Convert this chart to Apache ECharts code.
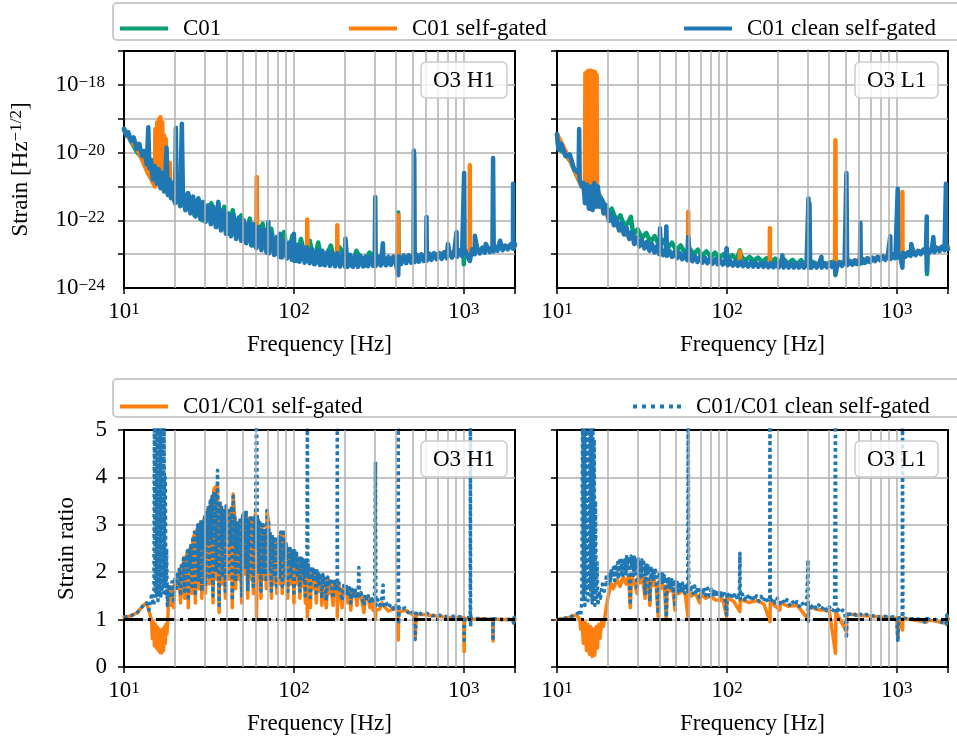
<!DOCTYPE html>
<html><head><meta charset="utf-8">
<script src="https://cdn.jsdelivr.net/npm/echarts@6/dist/echarts.min.js"></script>
<style>html,body{margin:0;padding:0;background:#fff}#c{width:957px;height:742px}</style>
</head><body><div id="c"></div>
<script>
const FONT = 'Liberation Serif';
const FS = 23;

// ---------- DATA ----------
// Top row: amplitude spectral density [Hz^-1/2] vs frequency [Hz]
const h1C01 = [[10,5.0e-20],[12,1.0e-20],[14,4.0e-21],[16,1.26e-21],[18,1.0e-21],[20,4.0e-22],[21.5,8.9e-22],[23,2.0e-22],[23.8,6.3e-22],[26,1.4e-22],[27.4,4.5e-22],[29,1.0e-22],[32.7,3.2e-22],[35,6.3e-23],[38.9,2.5e-22],[41,4.0e-23],[43.7,2.0e-22],[46,3.2e-23],[49,1.4e-22],[52,2.5e-23],[55,1.12e-22],[58,1.8e-23],[65.5,7.9e-23],[69,1.26e-23],[73.5,5.6e-23],[78,1.0e-23],[87.5,4.5e-23],[92,7.9e-24],[98,3.5e-23],[104,6.3e-24],[110,2.8e-23],[118,6.3e-24],[124,2.5e-23],[131,5.2e-24],[139,2.2e-23],[147,5.0e-24],[165,1.8e-23],[175,4.5e-24],[185,1.6e-23],[220,4.5e-24],[233,1.26e-23],[262,4.5e-24],[278,1.12e-23],[350,5.0e-24],[408,7.9e-24],[411,1.7e-22],[414,6.3e-24],[600,7.9e-24],[995,1.12e-23],[1000,5.0e-24],[1006,1.12e-23],[2000,1.8e-23]];
const h1Gated = [[10,4.5e-20],[12,1.26e-20],[13.8,2.5e-21],[14.5,1.6e-21],[15.2,1.0e-21],[15.3,5.0e-20],[15.5,1.6e-21],[15.7,7.9e-20],[15.9,1.6e-21],[16.1,1.0e-19],[16.3,1.26e-21],[16.4,1.1e-19],[16.6,1.26e-21],[16.8,7.9e-20],[17.0,1.0e-21],[17.2,3.2e-20],[17.4,1.0e-21],[17.6,2.5e-20],[17.8,7.9e-22],[18.4,6.3e-22],[18.6,5.0e-21],[18.8,6.3e-22],[22,3.2e-22],[30,1.26e-22],[45,5.0e-23],[60.0,2.5e-23],[60.4,1.9e-21],[60.8,2.5e-23],[100,1.26e-23],[119.5,1.0e-23],[119.8,1.05e-22],[120.2,1.0e-23],[179.6,7.9e-24],[180,7.1e-23],[180.4,7.9e-24],[300,7.1e-24],[410,7.9e-24],[411,1.4e-22],[412,7.9e-24],[700,1.0e-23],[1082,1.26e-23],[1084,4.2e-21],[1086,1.26e-23],[2000,1.8e-23]];
const h1Clean = [[10,5.0e-20],[10.3,3.2e-20],[10.6,4.0e-20],[11.0,2.2e-20],[11.4,2.8e-20],[11.9,1.3e-20],[12.3,1.8e-20],[12.8,7.9e-21],[13.2,1.1e-20],[13.6,4.5e-21],[13.9,5.6e-20],[14.1,3.5e-21],[14.4,6.3e-21],[14.8,1.6e-21],[15.2,4.0e-21],[15.6,1.2e-21],[16.0,3.2e-21],[16.4,8.9e-22],[16.8,2.5e-21],[17.2,7.1e-22],[17.5,2.0e-21],[17.8,1.4e-20],[18.1,5.6e-22],[18.5,1.6e-21],[18.9,4.5e-22],[19.3,1.26e-21],[19.7,4.0e-22],[20.0,3.2e-22],[20.2,5.4e-20],[20.4,3.5e-22],[20.7,8.9e-22],[21.4,2.6e-22],[21.9,7.1e-20],[22.2,7.6e-22],[23.0,2.0e-22],[23.8,6.3e-22],[24.6,1.6e-22],[25.5,5.0e-22],[26.4,1.3e-22],[27.3,4.2e-22],[28.2,1.07e-22],[29.2,3.5e-22],[30.2,8.9e-23],[31.3,2.8e-22],[32.4,7.6e-23],[33.5,2.5e-22],[34.7,6.3e-23],[35.9,3.5e-22],[37.2,5.0e-23],[38.5,1.9e-22],[39.8,4.0e-23],[41.2,1.6e-22],[42.6,3.4e-23],[44.1,1.4e-22],[45.7,2.8e-23],[47.3,1.2e-22],[48.9,2.5e-23],[50.6,1.0e-22],[52.4,2.1e-23],[54.2,8.9e-23],[56.1,1.8e-23],[58.1,7.6e-23],[60.1,1.5e-23],[62.2,6.3e-23],[64.4,1.3e-23],[66.7,5.2e-23],[69.0,1.12e-23],[70.7,8.9e-23],[71.4,1.07e-23],[73.9,4.0e-23],[76.5,9.5e-24],[79.2,3.2e-23],[82.0,8.3e-24],[82.7,4.0e-23],[84.8,7.9e-24],[87.8,2.5e-23],[90.9,7.4e-24],[94.0,2.2e-23],[97.3,6.8e-24],[100,4.0e-23],[100.7,6.3e-24],[104.3,1.9e-23],[107.9,6.0e-24],[111.7,1.8e-23],[115.6,5.6e-24],[119.6,1.6e-23],[123.8,5.4e-24],[128.1,1.4e-23],[132.6,5.0e-24],[137.3,1.3e-23],[142.1,4.8e-24],[147,1.26e-23],[152.2,4.7e-24],[157.5,1.17e-23],[163,4.5e-24],[168.7,1.12e-23],[174.6,4.4e-24],[180.7,1.07e-23],[187.1,4.3e-24],[193.6,1.0e-23],[200.4,4.2e-24],[201,2.9e-23],[207.4,4.2e-24],[214.7,9.5e-24],[222.2,4.2e-24],[230,9.1e-24],[238,4.2e-24],[246.4,8.9e-24],[255,4.3e-24],[263.9,8.5e-24],[273.2,4.4e-24],[282.7,8.3e-24],[292.6,4.5e-24],[299,8.3e-24],[301,4.9e-22],[303,4.5e-24],[313.5,8.3e-24],[324.4,4.6e-24],[334,2.1e-23],[335.8,8.3e-24],[347.5,4.7e-24],[359.7,8.3e-24],[372.3,4.8e-24],[385.3,8.5e-24],[398.8,5.0e-24],[411,2.4e-24],[412.8,8.7e-24],[427.2,5.1e-24],[442.2,9.1e-24],[457.6,5.4e-24],[473.7,9.3e-24],[490.2,5.6e-24],[506,9.5e-24],[508,1.15e-20],[511,6.3e-21],[514,5.8e-24],[525.2,9.8e-24],[543.5,6.0e-24],[562.6,1.0e-23],[582.2,6.3e-24],[600,1.0e-23],[603,1.26e-22],[606,6.5e-24],[623.7,1.05e-23],[645.5,6.8e-24],[668.1,1.07e-23],[691.5,7.1e-24],[715.7,1.1e-23],[740.7,7.2e-24],[766.7,1.15e-23],[793.5,7.6e-24],[806,2.0e-23],[821.3,1.17e-23],[850,7.9e-24],[879.8,1.23e-23],[906,4.5e-23],[910.6,8.3e-24],[942.5,1.29e-23],[975.4,8.7e-24],[1004,2.5e-21],[1009.6,1.35e-23],[1044.9,9.3e-24],[1084,6.3e-24],[1119.3,1.4e-23],[1158.5,1.0e-23],[1161,3.5e-23],[1199.1,1.48e-23],[1241,1.05e-23],[1284.5,1.55e-23],[1329.4,1.1e-23],[1345,2.0e-23],[1376,1.6e-23],[1424.1,1.15e-23],[1474,1.66e-23],[1486,6.9e-21],[1499,1.2e-23],[1525.6,1.7e-23],[1579,1.26e-23],[1634.2,2.5e-23],[1691.4,1.3e-23],[1750.6,1.8e-23],[1811.9,1.38e-23],[1875.3,1.9e-23],[1945,1.45e-23],[1950,1.2e-21],[1956,1.45e-23],[2000,2.0e-23]];

const l1C01 = [[10,3.5e-20],[10.2,1.26e-20],[11,1.0e-20],[12,5.6e-21],[13,2.2e-21],[14,1.0e-21],[15,1.0e-21],[16,1.35e-21],[16.5,1.0e-21],[17.5,6.3e-22],[18.7,3.5e-22],[19.8,1.6e-22],[21.0,2.2e-22],[22.3,1.0e-22],[23.6,1.4e-22],[25.0,6.3e-23],[26.5,9.5e-23],[27.2,1.26e-22],[28.1,3.8e-23],[29.8,5.4e-23],[31.6,3.0e-23],[33.5,4.2e-23],[35.5,2.3e-23],[37.6,3.4e-23],[39.9,1.8e-23],[42.3,2.6e-23],[44.8,1.5e-23],[47.5,2.2e-23],[50.4,1.26e-23],[53.4,1.8e-23],[56.6,1.12e-23],[60.0,1.5e-23],[63.6,1.0e-23],[67.4,1.35e-23],[71.5,9.1e-24],[75.8,1.2e-23],[80.3,8.3e-24],[85.1,1.1e-23],[90.2,7.6e-24],[95.7,1.0e-23],[101.4,7.1e-24],[107.5,9.3e-24],[114,6.8e-24],[119.2,1.3e-23],[120.8,8.9e-24],[128,6.5e-24],[135.7,8.3e-24],[143.9,6.3e-24],[152.5,7.9e-24],[161.7,6.0e-24],[171.4,7.6e-24],[181.7,5.8e-24],[192.6,7.4e-24],[204.1,5.5e-24],[216.4,7.1e-24],[229.4,5.2e-24],[243.1,6.8e-24],[257.7,5.0e-24],[273.2,6.6e-24],[289.6,4.8e-24],[307,6.3e-24],[360,4.6e-24],[420,6.0e-24],[600,5.2e-24],[800,7.9e-24],[1000,7.9e-24],[1495,1.26e-23],[1505,2.6e-24],[1515,1.3e-23],[2000,1.6e-23]];
const l1Gated = [[10,3.5e-20],[12,5.6e-21],[14,1.0e-21],[14.6,1.0e-21],[14.7,2.2e-18],[14.9,1.26e-21],[15.1,2.5e-18],[15.3,1.26e-21],[15.5,2.6e-18],[15.7,1.26e-21],[15.9,2.6e-18],[16.1,1.26e-21],[16.3,2.5e-18],[16.5,1.26e-21],[16.7,2.4e-18],[16.9,1.26e-21],[17.1,2.0e-18],[17.2,1.0e-21],[18,3.5e-22],[19,1.8e-22],[20,1.26e-22],[25,4.0e-23],[40,1.26e-23],[59.0,7.9e-24],[59.2,1.8e-22],[59.4,7.9e-24],[100,5.4e-24],[119.0,5.0e-24],[119.2,1.2e-23],[119.4,5.0e-24],[178.7,4.7e-24],[179,5.8e-23],[179.3,4.7e-24],[433,5.2e-24],[435,2.3e-20],[437,5.2e-24],[1076,1.0e-23],[1078,6.8e-22],[1080,1.0e-23],[2000,1.66e-23]];
const l1Clean = [[10,3.5e-20],[10.2,1.26e-20],[10.6,1.8e-20],[11.2,7.9e-21],[11.9,8.9e-21],[12.6,3.2e-21],[13.4,2.5e-21],[13.5,5.0e-20],[13.6,1.6e-21],[14.0,1.0e-21],[14.3,1.26e-21],[14.6,3.2e-22],[15.0,1.12e-21],[15.4,2.2e-22],[15.8,1.0e-21],[16.2,2.0e-22],[16.6,1.26e-21],[17.0,2.5e-22],[17.4,1.0e-21],[17.8,2.5e-22],[18.2,4.2e-22],[18.8,1.6e-22],[19.5,2.8e-22],[20.2,9.5e-23],[20.9,1.6e-22],[21.6,7.1e-23],[22.4,1.07e-22],[23.2,5.0e-23],[24.0,8.3e-23],[24.8,3.8e-23],[25.7,6.0e-23],[26.6,2.8e-23],[27.5,4.4e-23],[28.5,2.0e-23],[29.5,3.2e-23],[30.5,1.7e-23],[31.6,2.6e-23],[32.7,1.48e-23],[33.8,2.3e-23],[35.0,1.26e-23],[36.2,2.0e-23],[37.5,1.12e-23],[38.8,1.74e-23],[40.0,1.0e-23],[40.4,5.8e-23],[40.8,1.48e-23],[42.2,9.3e-24],[43.7,1.35e-23],[44.0,6.6e-23],[44.4,8.9e-24],[45.9,1.26e-23],[47.5,8.3e-24],[49.2,1.17e-23],[50.9,7.6e-24],[52.7,1.1e-23],[54.5,7.1e-24],[56.4,1.02e-23],[58.4,6.6e-24],[59.2,3.2e-23],[60.4,9.3e-24],[62.5,6.2e-24],[64.7,8.9e-24],[67.0,5.9e-24],[69.3,8.3e-24],[71.7,5.6e-24],[74.2,7.9e-24],[76.8,5.4e-24],[79.5,7.4e-24],[82.3,5.2e-24],[85.2,7.1e-24],[88.2,5.0e-24],[91.3,6.8e-24],[94.5,4.9e-24],[97.8,6.5e-24],[99.6,1.5e-23],[101.2,4.7e-24],[104.7,6.3e-24],[108.4,4.6e-24],[112.2,6.2e-24],[116.1,4.5e-24],[120.2,6.0e-24],[124.4,4.4e-24],[128.8,5.9e-24],[133.3,4.3e-24],[138,5.8e-24],[142.8,4.3e-24],[147.8,5.6e-24],[153,4.2e-24],[158.4,5.6e-24],[163.9,4.2e-24],[169.6,5.5e-24],[175.6,4.1e-24],[181.7,5.5e-24],[188.1,4.1e-24],[194.7,5.4e-24],[201.5,4.0e-24],[208.5,5.4e-24],[212,9.3e-24],[215.8,4.0e-24],[223.4,5.4e-24],[231.2,4.0e-24],[239.3,5.4e-24],[247.7,4.0e-24],[256.3,5.4e-24],[265.3,4.0e-24],[274.6,5.4e-24],[284.2,4.0e-24],[294.2,5.4e-24],[302,4.4e-22],[304,4.0e-24],[306,3.2e-22],[309,5.4e-24],[315.1,4.0e-24],[326.2,5.4e-24],[337.6,4.0e-24],[349.4,5.4e-24],[360,8.3e-24],[361.6,4.0e-24],[374.3,5.4e-24],[387.4,4.1e-24],[401,5.5e-24],[415,4.2e-24],[429.5,5.6e-24],[435,2.4e-24],[444.5,4.3e-24],[460,5.8e-24],[476,4.5e-24],[492.7,6.0e-24],[505,2.5e-21],[510,4.7e-24],[527.8,6.3e-24],[546.3,4.9e-24],[565.4,6.6e-24],[585.2,5.1e-24],[605.7,6.9e-24],[610,8.5e-23],[614,5.4e-24],[626.9,7.2e-24],[648.9,5.5e-24],[671.6,7.6e-24],[695.1,5.8e-24],[719.4,7.9e-24],[744.6,6.2e-24],[770.7,8.3e-24],[797.6,6.5e-24],[825.5,8.7e-24],[854.4,6.8e-24],[884.3,9.1e-24],[915,3.4e-23],[918,7.2e-24],[947.3,1.0e-23],[980.5,7.6e-24],[1012,8.5e-22],[1016,1.05e-23],[1050.3,7.9e-24],[1078,4.0e-24],[1087,1.1e-23],[1125,8.5e-24],[1164.4,1.15e-23],[1205.2,8.9e-24],[1216,2.0e-23],[1247.4,1.2e-23],[1291,9.3e-24],[1336.3,1.26e-23],[1383,1.0e-23],[1431.4,1.35e-23],[1481.5,1.05e-23],[1500,1.3e-22],[1505,3.2e-24],[1515,1.38e-23],[1553,1.1e-23],[1607,1.45e-23],[1640,3.2e-23],[1663,1.15e-23],[1721,1.55e-23],[1781,1.23e-23],[1843,1.66e-23],[1908,1.3e-23],[1945,1.2e-21],[1955,1.74e-23],[2000,1.4e-23]];

// Bottom row: strain ratios
const h1RatioGated = [[10,1.05],[11,1.08],[12,1.15],[13,1.3],[13.6,1.35],[14.0,1.2],[14.5,1.0],[14.7,0.6],[14.9,0.95],[15.1,0.45],[15.3,0.9],[15.5,0.4],[15.7,0.85],[15.9,0.35],[16.1,0.8],[16.3,0.3],[16.5,0.75],[16.7,0.3],[16.9,0.8],[17.1,0.35],[17.3,0.85],[17.5,0.5],[17.7,0.9],[17.9,0.7],[18.1,1.0],[18.4,1.65],[18.8,1.3],[19.2,1.7],[19.6,1.25],[20.0,1.8],[20.9,1.65],[21.2,2.0],[21.5,1.35],[21.8,2.1],[22.4,2.2],[22.7,1.45],[23.0,2.3],[23.6,2.4],[23.9,1.25],[24.2,2.45],[24.8,2.55],[25.1,1.55],[25.4,2.7],[26.0,2.8],[26.3,1.35],[26.6,2.85],[27.2,2.95],[27.5,1.65],[27.8,3.0],[28.4,3.05],[28.7,1.45],[29.0,2.95],[29.8,3.15],[30.2,1.55],[30.6,3.25],[31.4,3.35],[31.8,1.75],[32.2,3.45],[33.0,3.55],[33.4,1.35],[33.8,3.75],[34.6,3.8],[35.0,1.85],[35.5,3.8],[36.3,1.15],[36.7,3.45],[37.5,3.35],[37.9,1.75],[38.3,3.25],[39.1,3.25],[39.5,1.45],[39.9,3.35],[40.9,3.3],[41.4,1.85],[41.9,3.15],[42.9,3.35],[43.4,1.25],[43.9,3.65],[44.9,3.15],[45.4,1.65],[45.9,3.05],[46.9,3.0],[47.5,1.85],[48.1,3.05],[49.3,1.35],[49.9,3.15],[51.1,3.2],[51.7,1.95],[52.3,3.25],[53.5,1.45],[54.1,3.05],[55.3,3.15],[55.9,1.85],[56.5,3.15],[57.7,1.55],[58.3,3.05],[59.5,3.25],[60.2,1.0],[61.0,2.4],[61.6,3.05],[62.2,1.85],[62.8,3.05],[64.0,1.45],[64.6,2.95],[66.0,2.95],[66.7,1.85],[67.4,2.85],[68.8,1.65],[69.5,3.3],[70.9,3.05],[71.6,1.85],[72.3,2.8],[73.7,1.45],[74.4,2.75],[76.0,2.7],[76.8,1.75],[77.6,2.65],[79.2,1.55],[80.0,2.65],[81.8,2.7],[82.7,1.75],[83.6,2.8],[85.4,1.55],[86.3,2.85],[88.1,2.55],[89.0,1.75],[90,2.55],[92,1.45],[93,2.5],[95,2.45],[96,1.75],[97,2.45],[99,2.4],[100,1.35],[101.2,2.4],[103.6,2.35],[104.8,1.75],[106,2.3],[108.4,1.45],[109.6,2.25],[112,2.23],[113.2,1.7],[114.4,2.2],[116.8,1.35],[118,2.15],[120,1.05],[122,2.1],[125,1.25],[126.5,2.07],[129.5,2.05],[131,1.65],[132.5,2.03],[135.5,1.35],[137,1.98],[140,1.95],[142,1.6],[144,1.92],[146,1.3],[148,1.9],[152,1.88],[155,1.25],[158,1.85],[161,1.55],[164,1.82],[170,1.3],[173,1.8],[179.5,1.75],[180,1.05],[180.5,1.55],[184,1.73],[192,1.25],[196,1.67],[204,1.65],[208,1.35],[212,1.62],[216,1.2],[220,1.59],[230,1.57],[235,1.3],[239,1.55],[248,1.52],[258,1.15],[263,1.48],[274,1.45],[280,1.25],[286,1.43],[292,1.2],[298,1.41],[302,1.0],[304,1.2],[320,1.22],[328,1.35],[360,1.18],[398,1.25],[409,1.2],[411,0.57],[413,1.15],[450,1.2],[505,1.1],[517,0.6],[525,1.12],[600,1.1],[700,1.07],[800,1.05],[1000,1.04],[1004,0.32],[1010,1.03],[1093,1.0],[1100,1.03],[1300,1.02],[1480,1.0],[1485,0.55],[1490,1.01],[1700,1.0],[1950,1.0],[1960,0.93],[1980,1.05],[2000,1.0]];
const h1RatioClean = [[10,1.05],[11,1.08],[12,1.15],[13,1.3],[13.6,1.35],[14.0,1.2],[14.5,1.5],[15.0,1.3],[15.1,5.5],[15.25,1.6],[15.4,5.5],[15.55,1.5],[15.7,5.5],[15.85,1.4],[16.0,5.5],[16.15,1.5],[16.3,5.5],[16.45,1.45],[16.6,5.5],[16.75,1.6],[16.9,5.5],[17.05,1.5],[17.2,5.5],[17.35,1.7],[17.5,4.0],[17.65,1.5],[17.8,2.5],[18,1.3],[18.4,1.75],[18.8,1.45],[19.2,1.8],[19.6,1.4],[20.0,1.9],[20.3,1.6],[20.6,2.0],[20.9,1.7],[21.2,2.1],[21.5,1.5],[21.8,2.2],[22.1,1.85],[22.4,2.3],[22.7,1.6],[23.0,2.35],[23.3,2.0],[23.6,2.45],[23.9,1.4],[24.2,2.5],[24.5,2.1],[24.8,2.6],[25.1,1.7],[25.4,2.75],[25.7,2.2],[26.0,2.85],[26.3,1.5],[26.6,2.9],[26.9,2.4],[27.2,3.0],[27.5,1.8],[27.8,3.05],[28.1,2.5],[28.4,3.1],[28.7,1.6],[29.0,3.0],[29.4,2.5],[29.8,3.2],[30.2,1.7],[30.6,3.3],[31.0,2.6],[31.4,3.4],[31.8,1.9],[32.2,3.5],[32.6,2.7],[33.0,3.6],[33.4,1.5],[33.8,3.7],[34.2,2.8],[34.6,3.65],[35.0,2.0],[35.5,4.15],[35.9,2.7],[36.3,1.3],[36.7,3.5],[37.1,2.6],[37.5,3.4],[37.9,1.9],[38.3,3.3],[38.7,2.6],[39.1,3.3],[39.5,1.6],[39.9,3.4],[40.4,2.7],[40.9,3.35],[41.4,2.0],[41.9,3.2],[42.4,2.6],[42.9,3.4],[43.4,1.4],[43.9,3.6],[44.4,2.6],[44.9,3.2],[45.4,1.8],[45.9,3.1],[46.4,2.5],[46.9,3.05],[47.5,2.0],[48.1,3.1],[48.7,2.5],[49.3,1.5],[49.9,3.2],[50.5,2.6],[51.1,3.25],[51.7,2.1],[52.3,3.3],[52.9,2.6],[53.5,1.6],[54.1,3.1],[54.7,2.5],[55.3,3.2],[55.9,2.0],[56.5,3.2],[57.1,2.6],[57.7,1.7],[58.3,3.1],[58.9,2.5],[59.5,3.3],[59.8,4.3],[60.2,5.5],[60.6,4.4],[61.0,2.5],[61.6,3.1],[62.2,2.0],[62.8,3.1],[63.4,2.5],[64.0,1.6],[64.6,3.0],[65.3,2.5],[66.0,3.0],[66.7,2.0],[67.4,2.9],[68.1,2.4],[68.8,1.8],[69.5,3.3],[70.2,2.6],[70.9,3.1],[71.6,2.0],[72.3,2.85],[73.0,2.4],[73.7,1.6],[74.4,2.8],[75.2,2.3],[76.0,2.75],[76.8,1.9],[77.6,2.7],[78.4,2.3],[79.2,1.7],[80.0,2.7],[80.9,2.3],[81.8,2.75],[82.7,1.9],[83.6,2.85],[84.5,2.3],[85.4,1.7],[86.3,2.9],[87.2,2.3],[88.1,2.6],[89.0,1.9],[90,2.6],[91,2.2],[92,1.6],[93,2.55],[94,2.15],[95,2.5],[96,1.9],[97,2.5],[98,2.1],[99,2.45],[100,1.5],[101.2,2.45],[102.4,2.1],[103.6,2.4],[104.8,1.9],[106,2.35],[107.2,2.0],[108.4,1.6],[109.6,2.3],[110.8,2.0],[112,2.28],[113.2,1.85],[114.4,2.25],[115.6,1.95],[116.8,1.5],[118,2.2],[119.2,1.95],[120,5.5],[120.8,1.9],[122,2.15],[123.5,1.9],[125,1.4],[126.5,2.12],[128,1.85],[129.5,2.1],[131,1.8],[132.5,2.08],[134,1.75],[135.5,1.5],[137,2.03],[138.5,1.8],[140,2.0],[142,1.75],[144,1.97],[146,1.45],[148,1.95],[150,1.75],[152,1.93],[155,1.4],[158,1.9],[161,1.7],[164,1.87],[167,1.65],[170,1.45],[173,1.85],[176,1.65],[179.5,1.8],[180,5.5],[180.5,1.6],[184,1.78],[188,1.6],[192,1.4],[196,1.72],[200,1.55],[204,1.7],[208,1.5],[212,1.67],[216,1.35],[220,1.64],[225,1.5],[230,1.62],[235,1.45],[239,1.6],[241,2.1],[243,1.5],[248,1.57],[253,1.42],[258,1.3],[263,1.53],[268,1.4],[274,1.5],[280,1.38],[286,1.48],[292,1.35],[298,1.46],[302,4.33],[304,1.3],[312,1.42],[320,1.3],[328,1.4],[335,1.73],[337,1.3],[348,1.37],[360,1.25],[372,1.33],[385,1.22],[398,1.3],[409,1.2],[411,5.5],[413,0.9],[416,1.25],[430,1.2],[450,1.25],[470,1.15],[490,1.2],[505,1.12],[517,0.58],[525,1.17],[560,1.12],[600,1.14],[650,1.08],[700,1.1],[800,1.06],[900,1.07],[1000,1.05],[1004,0.5],[1010,1.05],[1090,1.04],[1093,5.5],[1096,0.85],[1100,1.03],[1300,1.02],[1480,1.0],[1485,0.55],[1490,1.02],[1700,1.0],[1950,1.0],[1960,0.93],[1980,1.05],[2000,1.0]];

const l1RatioGated = [[10,1.0],[12,1.05],[13,1.1],[13.6,1.0],[13.8,0.8],[14.0,1.0],[14.3,0.5],[14.6,0.95],[14.9,0.35],[15.2,0.9],[15.5,0.27],[15.8,0.85],[16.1,0.22],[16.4,0.8],[16.7,0.25],[17.0,0.85],[17.3,0.4],[17.6,0.9],[17.9,0.6],[18.3,0.95],[18.7,0.85],[19.2,1.1],[20,1.5],[20.9,1.75],[21.5,1.65],[22.5,1.85],[23.5,1.7],[24.5,1.9],[25.5,1.75],[26.4,1.93],[27,1.25],[27.4,1.93],[28.5,1.78],[29.6,1.55],[30,1.92],[31,1.78],[31.8,1.9],[33,1.45],[33.5,1.88],[34.5,1.75],[35.2,1.3],[35.7,1.85],[36.6,1.72],[37.5,1.82],[38.4,1.7],[39.4,1.05],[39.9,1.78],[41,1.66],[42,1.74],[43,1.62],[44,1.0],[44.5,1.7],[45.8,1.6],[47,1.68],[48.3,1.57],[49.5,1.2],[50,1.65],[52,1.55],[55,1.62],[57,1.52],[59.2,1.0],[59.6,1.6],[62,1.5],[65,1.56],[67,1.47],[69.3,1.35],[69.8,1.54],[75,1.45],[80,1.5],[85,1.42],[91,1.4],[91.5,1.48],[95,1.4],[99.6,1.05],[100.2,1.46],[110,1.38],[119.2,1.17],[119.8,1.43],[135,1.36],[150,1.4],[165,1.33],[179.2,0.96],[180,1.38],[205,1.2],[206,1.36],[230,1.28],[260,1.3],[301,1.0],[303,1.28],[350,1.2],[400,1.2],[435.5,0.29],[438,1.16],[505,0.75],[510,1.12],[700,1.07],[1000,1.03],[1013,0.6],[1025,1.03],[1080,0.78],[1086,1.03],[1500,0.95],[1520,1.0],[1950,0.92],[1970,1.08],[2000,1.0]];
const l1RatioClean = [[10,1.0],[11,1.02],[12,1.06],[13,1.12],[13.5,1.15],[13.8,1.1],[14.0,1.4],[14.15,5.5],[14.3,1.5],[14.45,5.5],[14.6,1.3],[14.75,5.5],[14.9,1.6],[15.05,5.5],[15.2,1.4],[15.35,5.5],[15.5,1.7],[15.65,5.5],[15.8,1.5],[15.95,5.5],[16.1,1.35],[16.25,5.5],[16.4,1.6],[16.55,4.8],[16.7,1.3],[16.85,3.5],[17.0,1.4],[17.2,2.2],[17.4,1.3],[17.7,1.6],[18.0,1.45],[18.5,1.75],[19.0,1.6],[19.5,1.9],[20.0,1.7],[20.3,2.0],[20.6,1.78],[20.9,2.08],[21.2,1.9],[21.5,2.1],[21.8,1.82],[22.1,2.17],[22.4,1.95],[22.7,2.2],[23.0,1.86],[23.3,2.24],[23.6,2.02],[23.9,2.25],[24.2,1.9],[24.5,2.3],[24.8,2.07],[25.1,2.29],[25.4,1.93],[25.7,2.33],[26.0,2.1],[26.3,2.32],[26.6,1.95],[27.0,1.31],[27.3,2.34],[27.6,2.08],[27.9,2.33],[28.2,1.93],[28.5,2.32],[28.8,2.05],[29.1,2.3],[29.6,1.62],[30.0,2.29],[30.4,2.03],[30.8,2.26],[31.2,1.9],[31.6,2.26],[32.0,2.0],[32.4,2.21],[33.0,1.55],[33.4,2.21],[33.8,1.96],[34.2,2.17],[34.6,1.84],[35.2,1.38],[35.6,2.13],[36.0,1.92],[36.4,2.09],[36.8,1.8],[37.2,2.08],[37.6,1.88],[38.0,2.04],[38.5,1.76],[39.4,1.13],[39.9,2.01],[40.4,1.84],[40.9,1.97],[41.4,1.72],[41.9,1.96],[42.4,1.8],[42.9,1.92],[43.4,1.68],[44.0,1.05],[44.5,1.89],[45.0,1.75],[45.5,1.86],[46.0,1.64],[46.5,1.87],[47.0,1.72],[47.5,1.84],[48.0,1.62],[48.5,1.84],[49.5,1.27],[50.0,1.81],[50.6,1.68],[51.2,1.78],[51.8,1.59],[52.4,1.79],[53.0,1.66],[53.6,1.76],[54.2,1.57],[54.8,1.77],[55.4,1.64],[56.0,1.74],[56.6,1.56],[57.2,1.76],[57.8,1.62],[58.4,1.73],[58.8,1.6],[59.2,5.5],[59.6,1.8],[60.8,1.57],[62.1,1.73],[63.4,1.55],[64.7,1.71],[66.0,1.54],[67.5,1.7],[69.3,1.41],[69.8,1.68],[71.5,1.52],[73.3,1.67],[75.1,1.51],[77.0,1.66],[79.0,1.5],[81.0,1.64],[83.0,1.49],[85.0,1.63],[87.0,1.48],[89.0,1.62],[91.0,1.45],[91.5,1.6],[93.5,1.47],[95.5,1.6],[97.5,1.46],[99.6,1.1],[100.2,1.58],[103,1.45],[106,1.57],[109,1.44],[112,1.56],[115,1.43],[118.5,1.55],[119.2,2.4],[119.8,1.43],[123,1.54],[127,1.42],[131,1.53],[135,1.41],[139,1.52],[144,1.4],[149,1.5],[154,1.39],[159,1.49],[164,1.38],[169,1.48],[174,1.37],[178.5,1.47],[179.2,5.5],[180,1.38],[186,1.46],[192,1.35],[198,1.45],[205,1.34],[212,1.43],[219,1.33],[226,1.42],[234,1.31],[242,1.4],[250,1.3],[258,1.38],[267,1.28],[276,1.37],[285,1.27],[295,1.35],[300,2.26],[301,0.96],[303,1.3],[313,1.25],[324,1.33],[335,1.23],[347,1.31],[360,1.21],[373,1.29],[386,1.19],[400,1.27],[415,1.17],[430,1.24],[435.5,5.5],[438,1.15],[450,1.22],[465,1.14],[480,1.2],[495,1.12],[505,0.6],[510,1.17],[530,1.11],[550,1.15],[575,1.09],[600,1.13],[630,1.08],[660,1.11],[700,1.07],[750,1.09],[800,1.05],[850,1.07],[900,1.04],[950,1.06],[1000,1.03],[1013,0.53],[1025,1.04],[1075,1.03],[1080,5.5],[1086,1.03],[1200,1.02],[1350,1.01],[1500,0.93],[1510,1.07],[1520,1.0],[1700,1.0],[1950,0.9],[1970,1.1],[2000,1.0]];

const unityFreq = [10, 2000];
const unityRatio = [1, 1];
const minorGridFreqs = [20,30,40,50,60,70,80,90,200,300,400,500,600,700,800,900];
const strainLabelValues = [1e-24, 1e-22, 1e-20, 1e-18];
const panelLabels = ['O3 H1', 'O3 L1', 'O3 H1', 'O3 L1'];
const legendTop = ['C01', 'C01 self-gated', 'C01 clean self-gated'];
const legendBottom = ['C01/C01 self-gated', 'C01/C01 clean self-gated'];

// ---------- STYLE ----------
const GREEN = '#029e73', ORANGE = '#ff7f0e', BLUE = '#1f77b4', GRIDC = '#b0b0b0';
const supRich = {
  b: {fontFamily: FONT, fontSize: FS, color: '#000', lineHeight: 22},
  s: {fontFamily: FONT, fontSize: 17, color: '#000', verticalAlign: 'top', lineHeight: 11}
};
function powLabel(v) {
  const e = Math.round(Math.log10(v));
  if (Math.abs(Math.log10(v) - e) > 1e-6) return '';
  return '{b|10}{s|' + (e < 0 ? '\u2212' + (-e) : e) + '}';
}
function powLabelEven(v) {
  const e = Math.round(Math.log10(v));
  if (Math.abs(Math.log10(v) - e) > 1e-6) return '';
  if (e % 2 !== 0 || e > -18) return '';
  return '{b|10}{s|\u2212' + (-e) + '}';
}
const grids = [
  {left: 124, top: 51, width: 391, height: 237},
  {left: 557, top: 51, width: 391, height: 237},
  {left: 124, top: 430, width: 391, height: 237},
  {left: 557, top: 430, width: 391, height: 237}
].map(g => Object.assign(g, {show: true, borderColor: '#000', borderWidth: 2, backgroundColor: '#fff', outerBoundsMode: 'none'}));

const splitLine = {show: true, showMinLine: false, showMaxLine: false, lineStyle: {color: GRIDC, width: 1.5}};
const axisTick = {show: true, length: 6, lineStyle: {color: '#000', width: 1.5}};
const axisLine = {show: true, onZero: false, lineStyle: {color: '#000', width: 2}};

const xAxes = [0,1,2,3].map(i => ({
  type: 'log', logBase: 10, gridIndex: i, min: 10, max: 2000,
  axisLine, axisTick, splitLine,
  axisLabel: {formatter: powLabel, rich: supRich, margin: 13, hideOverlap: false, showMinLabel: true, showMaxLabel: true},
  name: 'Frequency [Hz]', nameLocation: 'middle', nameGap: 45, nameMoveOverlap: false,
  nameTextStyle: {fontFamily: FONT, fontSize: FS, color: '#000'}
}));
const yAxes = [0,1].map(i => ({
  type: 'log', logBase: 10, gridIndex: i, min: 1e-24, max: 1e-17, splitNumber: 7,
  axisLine, axisTick, splitLine,
  axisLabel: {show: i === 0, customValues: strainLabelValues, formatter: powLabelEven, rich: supRich, margin: 19, hideOverlap: false, showMinLabel: true, showMaxLabel: true},
  name: i === 0 ? 'Strain [Hz{s|\u22121/2}]' : '', nameLocation: 'middle', nameGap: 90, nameMoveOverlap: false,
  nameTextStyle: {fontFamily: FONT, fontSize: FS, color: '#000', lineHeight: 26,
    rich: {s: {fontFamily: FONT, fontSize: 17, color: '#000', verticalAlign: 'top', lineHeight: 14}}}
})).concat([2,3].map(i => ({
  type: 'value', gridIndex: i, min: 0, max: 5, interval: 1,
  axisLine, axisTick, splitLine,
  axisLabel: {show: i === 2, fontFamily: FONT, fontSize: FS, color: '#000', margin: 17, hideOverlap: false, showMinLabel: true, showMaxLabel: true},
  name: i === 2 ? 'Strain ratio' : '', nameLocation: 'middle', nameGap: 46, nameMoveOverlap: false,
  nameTextStyle: {fontFamily: FONT, fontSize: FS, color: '#000'}
})));

function line(name, data, i, color, width, extra) {
  return Object.assign({
    type: 'line', name, data, xAxisIndex: i, yAxisIndex: i,
    showSymbol: false, symbol: 'none', silent: true, clip: true, z: 2,
    emphasis: {disabled: true},
    lineStyle: {color, width, join: 'round', cap: 'round'},
    itemStyle: {color}
  }, extra || {});
}
const dotted = (c) => ({lineStyle: {color: c, width: 3.5, type: [3.5, 3.2], join: 'round', cap: 'butt'}});

const series = [];
[0,1,2,3].forEach(i => {
  series.push({
    type: 'line', xAxisIndex: i, yAxisIndex: i, data: [], silent: true, z: 1,
    markLine: {silent: true, symbol: 'none', animation: false, label: {show: false},
      lineStyle: {color: GRIDC, width: 1.5, type: 'solid'},
      emphasis: {disabled: true},
      data: minorGridFreqs.map(v => ({xAxis: v}))}
  });
});
const TW = 4.5;
series.push(line('C01', h1C01, 0, GREEN, TW));
series.push(line('C01 self-gated', h1Gated, 0, ORANGE, TW));
series.push(line('C01 clean self-gated', h1Clean, 0, BLUE, TW));
series.push(line('C01', l1C01, 1, GREEN, TW));
series.push(line('C01 self-gated', l1Gated, 1, ORANGE, TW));
series.push(line('C01 clean self-gated', l1Clean, 1, BLUE, TW));
series.push(line('C01/C01 self-gated', h1RatioGated, 2, ORANGE, 3.5));
series.push(line('C01/C01 clean self-gated', h1RatioClean, 2, BLUE, 3.5, dotted(BLUE)));
series.push(line('C01/C01 self-gated', l1RatioGated, 3, ORANGE, 3.5));
series.push(line('C01/C01 clean self-gated', l1RatioClean, 3, BLUE, 3.5, dotted(BLUE)));
[2,3].forEach(i => {
  series.push(line('unity', unityFreq.map((f, k) => [f, unityRatio[k]]), i, '#000', 3,
    {z: 3, lineStyle: {color: '#000', width: 3, type: [19, 5, 3, 5], cap: 'butt'}}));
});

const DOT_ICON = 'path://M0,0h4v4h-4z M9,0h4v4h-4z M18,0h4v4h-4z M27,0h4v4h-4z M36,0h4v4h-4z M44,0h4v4h-4z';
const legBase = {
  orient: 'horizontal', padding: 0, itemWidth: 48, itemHeight: 4, selectedMode: false,
  icon: 'rect',
  textStyle: {fontFamily: FONT, fontSize: FS, color: '#000', padding: [0, 0, 0, 10]}
};
const legends = [
  Object.assign({}, legBase, {data: [legendTop[0]], left: 120, top: 17}),
  Object.assign({}, legBase, {data: [legendTop[1]], left: 349, top: 17}),
  Object.assign({}, legBase, {data: [legendTop[2]], left: 684, top: 17}),
  Object.assign({}, legBase, {data: [legendBottom[0]], left: 120, top: 395}),
  Object.assign({}, legBase, {data: [legendBottom[1]], left: 633, top: 395, icon: DOT_ICON})
];

const titlePos = [[421, 62], [855, 62], [421, 441], [855, 441]];
const titles = panelLabels.map((t, k) => ({
  text: t, left: titlePos[k][0], top: titlePos[k][1],
  padding: [7, 12, 6, 12], borderColor: '#cccccc', borderWidth: 1.5, borderRadius: 5,
  backgroundColor: 'rgba(255,255,255,0.8)',
  textStyle: {fontFamily: FONT, fontSize: FS, fontWeight: 'normal', color: '#000'}
}));

const chart = echarts.init(document.getElementById('c'), null, {renderer: 'canvas'});
chart.setOption({
  animation: false,
  backgroundColor: '#fff',
  title: titles,
  legend: legends,
  grid: grids,
  xAxis: xAxes,
  yAxis: yAxes,
  graphic: [
    {type: 'rect', z: -10, silent: true, shape: {x: 113, y: 3, width: 870, height: 37, r: 4},
      style: {fill: '#fff', stroke: '#cccccc', lineWidth: 2}},
    {type: 'rect', z: -10, silent: true, shape: {x: 113, y: 379, width: 870, height: 38, r: 4},
      style: {fill: '#fff', stroke: '#cccccc', lineWidth: 2}}
  ],
  series
});
</script>
</body></html>
